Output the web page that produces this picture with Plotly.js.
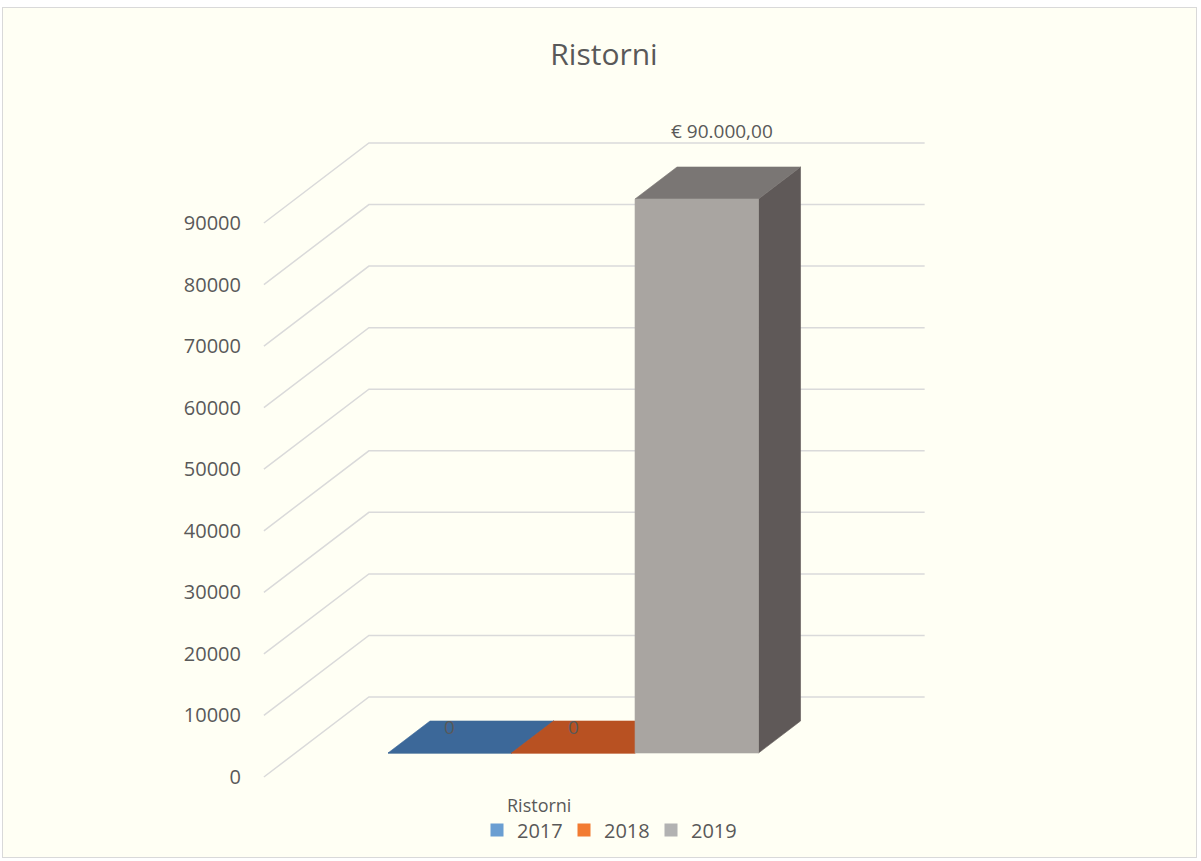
<!DOCTYPE html>
<html>
<head>
<meta charset="utf-8">
<script src="https://cdn.plot.ly/plotly-3.0.1.min.js"></script>
<style>
  html, body { margin: 0; padding: 0; background: #ffffff; }
  #frame { position: absolute; left: 2px; top: 7px; width: 1195px; height: 851px;
           background: #FFFFF4; border: 1px solid #D9D9D9; box-sizing: border-box; }
  #chart { position: absolute; left: 0; top: 0; width: 1201px; height: 861px; }
</style>
</head>
<body>
<div id="frame"></div>
<div id="chart"></div>
<script>
// ---------------- data ----------------
const chartTitle = 'Ristorni';
const categoryName = 'Ristorni';
const seriesNames = ['2017', '2018', '2019'];
const seriesValues = [0, 0, 90000];
const tickValues = [0, 10000, 20000, 30000, 40000, 50000, 60000, 70000, 80000, 90000];
const tickLabels = ['0', '10000', '20000', '30000', '40000', '50000', '60000', '70000', '80000', '90000'];

// ---------------- styles ----------------
const frontColors = ['#3C6899', '#B85122', '#A9A5A1'];
const topColors = ['#3C6899', '#B85122', '#7A7674'];
const sideColors = ['#2E5177', '#8E3F1A', '#5F5958'];
const legendColors = ['#6A9ED2', '#F27B31', '#B2B2B2'];
const textColor = '#595959';
const gridColor = '#DADADA';
const FONT = '"Open Sans", "Noto Sans", sans-serif';

// ---------------- oblique 3D geometry ----------------
const W = 1201, H = 861;
const BAR_PX = 123.5;              // one bar width in pixels
const VALUE_PX = 554 / 90000;      // pixels per value unit
const DEPTH_DX_PX = 105, DEPTH_DY_PX = 80;
const GAP = 0.75;                  // gap width 150% split on both sides
const CAT_W = seriesValues.length + 2 * GAP;
const D1 = 0.3, D2 = 0.7;          // bar depth span within the floor
const DXu = DEPTH_DX_PX / BAR_PX;
const DYv = DEPTH_DY_PX / VALUE_PX;
const ORIGIN_X = 263.9, ORIGIN_Y = 777;   // pixel of (u=0, v=0, d=0)
const M = {l: 250, r: 251, t: 100, b: 61, autoexpand: false};
const PW = W - M.l - M.r, PH = H - M.t - M.b;
const xRange = [(M.l - ORIGIN_X) / BAR_PX, (W - M.r - ORIGIN_X) / BAR_PX];
const yRange = [-(H - M.b - ORIGIN_Y) / VALUE_PX, (ORIGIN_Y - M.t) / VALUE_PX];

function proj(u, v, d) { return [u + d * DXu, v + d * DYv]; }
function poly(pts, color) {
  const p = pts.map(q => proj(q[0], q[1], q[2]));
  p.push(p[0]);
  return {
    type: 'scatter', mode: 'lines', x: p.map(q => q[0]), y: p.map(q => q[1]),
    fill: 'toself', fillcolor: color, line: {color: color, width: 0.6},
    hoverinfo: 'skip', showlegend: false
  };
}

const traces = [];

// grid: diagonals on the left wall + horizontal lines on the back wall
const gx = [], gy = [];
tickValues.forEach(v => {
  const a = proj(0, v, 0), b = proj(0, v, 1), c = proj(CAT_W, v, 1);
  gx.push(a[0], b[0], c[0], null);
  gy.push(a[1], b[1], c[1], null);
});
traces.push({type: 'scatter', mode: 'lines', x: gx, y: gy,
  line: {color: gridColor, width: 1.5}, hoverinfo: 'skip', showlegend: false});

// bars
seriesValues.forEach((v, i) => {
  const a = GAP + i, b = a + 1;
  traces.push(poly([[b, 0, D1], [b, v, D1], [b, v, D2], [b, 0, D2]], sideColors[i]));
  traces.push(poly([[a, v, D1], [b, v, D1], [b, v, D2], [a, v, D2]], topColors[i]));
  traces.push(poly([[a, 0, D1], [b, 0, D1], [b, v, D1], [a, v, D1]], frontColors[i]));
});

// legend entries
seriesNames.forEach((n, i) => {
  traces.push({type: 'scatter', mode: 'markers', x: [null], y: [null], name: n,
    marker: {symbol: 'square', size: 13, color: legendColors[i]}, hoverinfo: 'skip'});
});

// value labels
function fmt(v) {
  if (v === 0) return '0';
  const s = Math.round(v).toString().replace(/\B(?=(\d{3})+(?!\d))/g, '.');
  return '€ ' + s + ',00';
}
const annotations = seriesValues.map((v, i) => {
  const c = proj(GAP + i + 0.5, v, 0.5);
  return {
    x: c[0], y: c[1], xref: 'x', yref: 'y', text: fmt(v), showarrow: false,
    xanchor: 'center', yanchor: 'middle',
    xshift: v > 0 ? 4 : -21, yshift: v > 0 ? 52 : 10,
    font: {family: FONT, size: 19, color: textColor}
  };
});
// legend title (category name)
annotations.push({
  x: (505 - M.l) / PW, y: 1 - (805 - M.t) / PH, xref: 'paper', yref: 'paper',
  xanchor: 'left', yanchor: 'middle', text: categoryName, showarrow: false,
  font: {family: FONT, size: 18, color: textColor}
});

const layout = {
  width: W, height: H,
  paper_bgcolor: 'rgba(0,0,0,0)', plot_bgcolor: 'rgba(0,0,0,0)',
  margin: M,
  font: {family: FONT, color: textColor},
  title: {text: chartTitle, x: 604 / W, xref: 'container', xanchor: 'center',
          y: 1 - 54 / H, yref: 'container', yanchor: 'middle',
          font: {family: FONT, size: 30, color: textColor}},
  xaxis: {range: xRange, visible: false, fixedrange: true},
  yaxis: {range: yRange, showgrid: false, zeroline: false, showline: false,
          tickmode: 'array', tickvals: tickValues, ticktext: tickLabels,
          ticks: '', ticklabelstandoff: 8,
          tickfont: {family: FONT, size: 20, color: textColor}, fixedrange: true},
  showlegend: true,
  legend: {orientation: 'h', xref: 'container', yref: 'container',
           x: 477 / W, xanchor: 'left', y: 1 - 830 / H, yanchor: 'middle',
           entrywidth: 42, entrywidthmode: 'pixels',
           bgcolor: 'rgba(0,0,0,0)', borderwidth: 0, traceorder: 'normal',
           itemclick: false, itemdoubleclick: false,
           font: {family: FONT, size: 20, color: textColor}},
  annotations: annotations,
  hovermode: false
};

Plotly.newPlot('chart', traces, layout, {displayModeBar: false, staticPlot: true});
</script>
</body>
</html>
